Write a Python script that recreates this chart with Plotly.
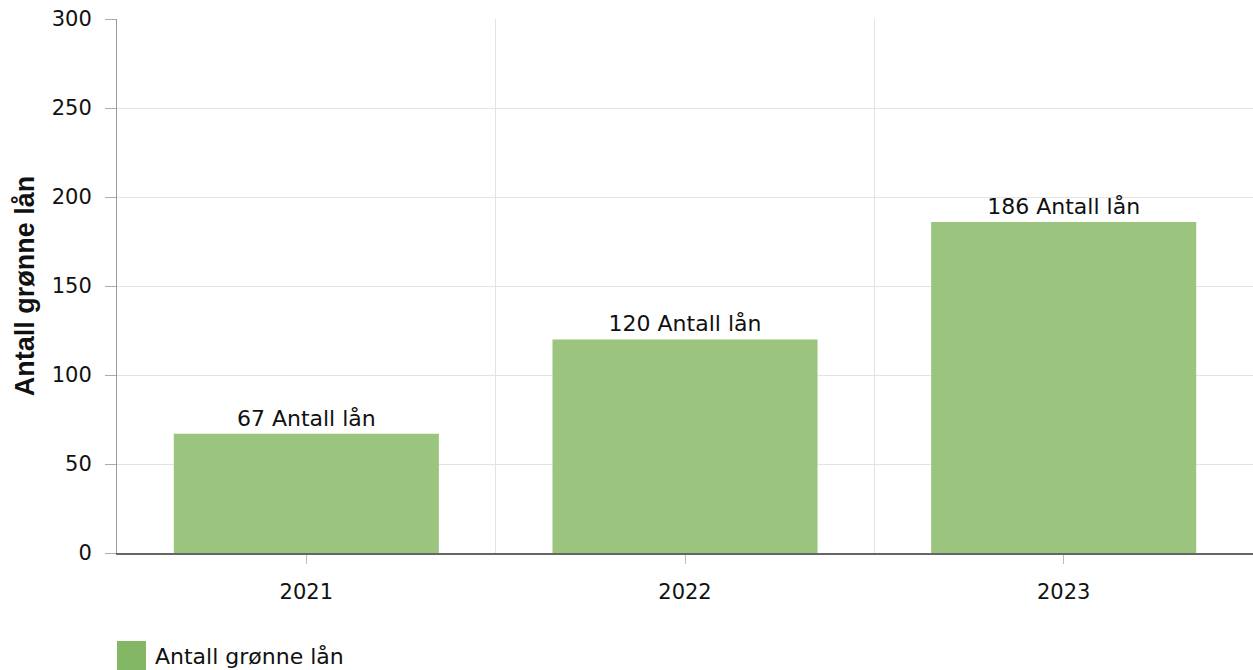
import plotly.graph_objects as go

years = ["2021", "2022", "2023"]
values = [67, 120, 186]
series_name = "Antall grønne lån"
label_suffix = " Antall lån"
y_ticks = [0, 50, 100, 150, 200, 250, 300]

FONT = "DejaVu Sans, Verdana, sans-serif"
TITLE_FONT = "Liberation Sans, Arial, sans-serif"
BAR = "#9bc47f"
SWATCH = "#84b765"

x_pos = list(range(len(years)))

fig = go.Figure()
fig.add_trace(go.Bar(
    x=x_pos, y=values, width=0.7,
    marker=dict(color=BAR, line=dict(width=0)),
    text=[f"{v}{label_suffix}" for v in values],
    textposition="outside", cliponaxis=False,
    textfont=dict(family=FONT, size=22, color="#111111"),
    name=series_name, showlegend=False, hoverinfo="skip",
))

fig.update_layout(
    width=1253, height=670,
    margin=dict(l=117, r=0, t=19, b=117),
    paper_bgcolor="white", plot_bgcolor="white",
    font=dict(family=FONT, size=21, color="#111111"),
    showlegend=False,
    xaxis=dict(
        range=[-0.5, 2.5],
        tickmode="array", tickvals=x_pos, ticktext=years,
        showgrid=False, zeroline=False,
        showline=True, linecolor="#666666", linewidth=1.5,
        ticks="outside", ticklen=9, tickcolor="#bbbbbb", tickwidth=1,
        ticklabelstandoff=10,
        minor=dict(tickmode="array", tickvals=[0.5, 1.5], showgrid=True,
                   gridcolor="#e3e3e3", gridwidth=1, ticks=""),
        tickfont=dict(family=FONT, size=21, color="#111111"),
    ),
    yaxis=dict(
        range=[0, 300],
        tickmode="array", tickvals=y_ticks,
        showgrid=True, gridcolor="#e3e3e3", gridwidth=1,
        zeroline=False,
        showline=True, linecolor="#999999", linewidth=1,
        ticks="outside", ticklen=11, tickcolor="#aaaaaa",
        ticklabelstandoff=9,
        tickfont=dict(family=FONT, size=21, color="#111111"),
        title=dict(text="<b>" + series_name + "</b>",
                   font=dict(family=TITLE_FONT, size=27, color="#111111"),
                   standoff=9),
    ),
    shapes=[dict(type="rect", xref="paper", yref="paper",
                 x0=0, x1=29 / 1136, y0=-117 / 534, y1=-88 / 534,
                 fillcolor=SWATCH, line=dict(width=0))],
    annotations=[dict(text=series_name, xref="paper", yref="paper",
                      x=36 / 1136, y=-103 / 534, xanchor="left", yanchor="middle",
                      showarrow=False,
                      font=dict(family=FONT, size=22, color="#111111"))],
)

fig.write_html("out.html", config={"displayModeBar": False},
               post_script="document.body.style.margin='0';document.body.style.padding='0';")
